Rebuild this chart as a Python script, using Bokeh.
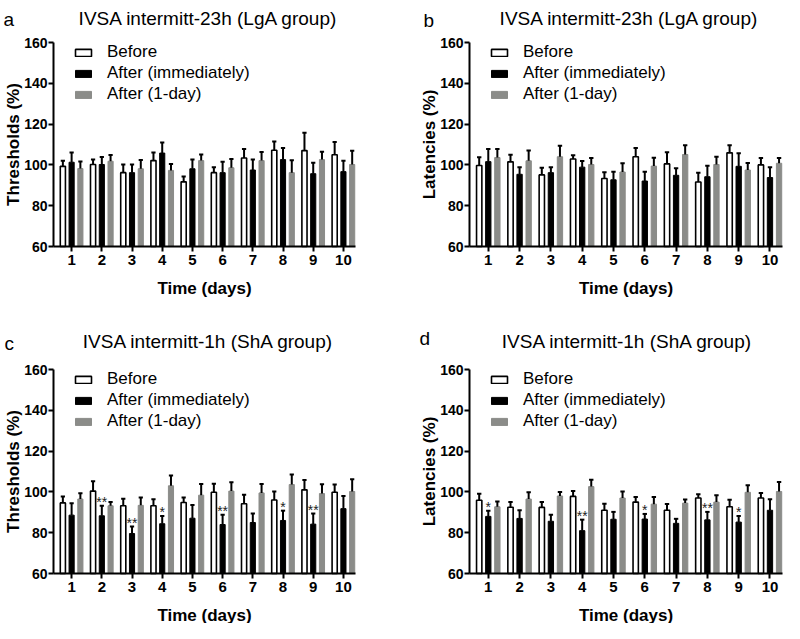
from bokeh.plotting import figure
from bokeh.layouts import gridplot
from bokeh.models import Range1d, FixedTicker, Legend, LegendItem, Label, ColumnDataSource
from bokeh.embed import file_html
from bokeh.resources import INLINE
from bokeh.core.properties import value

days = [1, 2, 3, 4, 5, 6, 7, 8, 9, 10]
series_names = ["Before", "After (immediately)", "After (1-day)"]

# Panel a: thresholds, LgA
a_before = [99.3, 100.2, 96.2, 102.1, 91.7, 96.2, 103.4, 107.2, 107.0, 105.0]
a_before_err = [102.0, 102.6, 100.2, 106.1, 94.3, 98.9, 107.8, 111.5, 115.7, 111.2]
a_imm = [101.3, 100.2, 96.2, 105.8, 98.1, 96.2, 97.5, 102.6, 95.7, 96.7]
a_imm_err = [106.1, 103.9, 100.2, 111.0, 102.6, 101.5, 102.7, 108.3, 101.0, 102.0]
a_day = [98.2, 101.8, 98.1, 97.3, 102.1, 98.6, 102.1, 96.2, 102.6, 100.2]
a_day_err = [101.7, 104.8, 102.4, 100.5, 105.1, 102.9, 106.3, 102.3, 106.4, 106.9]

# Panel b: latencies, LgA
b_before = [99.7, 101.5, 95.1, 102.9, 93.3, 104.0, 100.5, 91.6, 105.9, 100.0]
b_before_err = [103.7, 105.0, 98.6, 104.7, 96.4, 108.3, 106.2, 96.2, 109.6, 103.4]
b_imm = [101.6, 95.4, 96.2, 98.9, 92.7, 92.1, 94.9, 94.2, 99.3, 93.8]
b_imm_err = [107.8, 98.9, 98.9, 101.9, 96.6, 96.6, 98.3, 99.6, 105.7, 98.9]
b_day = [103.6, 102.0, 104.0, 100.2, 96.5, 99.4, 105.1, 100.2, 97.5, 100.8]
b_day_err = [107.8, 107.1, 109.4, 103.4, 100.8, 103.5, 109.6, 104.0, 100.9, 103.4]

# Panel c: thresholds, ShA
c_before = [94.6, 100.4, 93.2, 93.2, 94.8, 99.8, 94.2, 96.0, 101.0, 99.8]
c_before_err = [97.8, 105.2, 96.6, 96.4, 97.2, 104.0, 98.6, 100.2, 105.8, 103.6]
c_imm = [88.6, 88.3, 79.6, 84.4, 87.1, 84.0, 85.0, 86.0, 84.2, 91.8]
c_imm_err = [94.4, 93.2, 83.0, 88.2, 93.6, 88.8, 89.4, 90.8, 89.4, 98.0]
c_day = [96.5, 93.2, 93.4, 103.0, 98.4, 100.4, 99.5, 103.6, 99.2, 100.2]
c_day_err = [99.3, 95.0, 97.2, 108.0, 103.9, 104.7, 103.9, 108.5, 103.7, 106.2]
c_stars = ["", "**", "**", "*", "", "**", "", "*", "**", ""]

# Panel d: latencies, ShA
d_before = [95.9, 92.5, 92.4, 97.8, 91.0, 95.0, 91.0, 97.0, 92.7, 97.0]
d_before_err = [99.1, 95.1, 95.0, 100.4, 94.2, 97.5, 94.1, 98.8, 96.2, 99.4]
d_imm = [88.0, 87.0, 85.6, 81.0, 86.6, 86.7, 84.6, 86.3, 85.2, 91.0]
d_imm_err = [90.8, 91.0, 88.8, 86.4, 90.2, 89.2, 86.8, 90.2, 88.2, 96.4]
d_day = [92.7, 96.5, 98.0, 102.6, 97.0, 94.0, 94.5, 95.0, 99.8, 100.2]
d_day_err = [95.3, 99.8, 100.0, 105.9, 100.2, 97.5, 96.3, 98.3, 103.3, 104.8]
d_stars = ["*", "", "", "**", "", "*", "", "**", "*", ""]

titles = ["IVSA intermitt-23h (LgA group)", "IVSA intermitt-23h (LgA group)",
          "IVSA intermitt-1h (ShA group)", "IVSA intermitt-1h (ShA group)"]
letters = ["a", "b", "c", "d"]
ylabels = ["Thresholds (%)", "Latencies (%)", "Thresholds (%)", "Latencies (%)"]
xlabel = "Time (days)"
y_ticks = [60, 80, 100, 120, 140, 160]

FONT = "Liberation Sans"
GRAY = "#8b8c89"
OFF = 0.29
BW = 0.17
CAP = 0.07
X0, X1 = 0.4, 10.4
Y0, Y1 = 60, 160


def make_panel(idx, W, H, ax_px, right_px, top_px, bot_px, title_cx, title_by,
               letter_x, letter_by, data, stars):
    kx = (right_px - ax_px) / (X1 - X0)
    ky = (bot_px - top_px) / (Y1 - Y0)
    xs0 = X0 - ax_px / kx
    xs1 = X1 + (W - right_px) / kx
    ys0 = Y0 - (H - bot_px) / ky
    ys1 = Y1 + top_px / ky

    def px_x(px):
        return xs0 + px / kx

    def px_y(py):
        return ys1 - py / ky

    p = figure(width=W, height=H, output_backend="svg", toolbar_location=None,
               x_range=Range1d(xs0, xs1), y_range=Range1d(ys0, ys1),
               min_border_left=0, min_border_right=0, min_border_top=0, min_border_bottom=0)
    p.outline_line_color = None
    p.grid.visible = False
    p.background_fill_color = "white"
    p.border_fill_color = "white"

    (bv, be), (iv, ie), (dv, de) = data
    x_b = [d - OFF for d in days]
    x_i = list(days)
    x_d = [d + OFF for d in days]

    r1 = p.vbar(x=x_b, top=bv, bottom=Y0, width=BW, fill_color="white",
                line_color="black", line_width=1.6)
    r2 = p.vbar(x=x_i, top=iv, bottom=Y0, width=BW, fill_color="black", line_color="black",
                line_width=1)
    r3 = p.vbar(x=x_d, top=dv, bottom=Y0, width=BW, fill_color=GRAY, line_color=GRAY,
                line_width=1)

    for xs, tops, errs in ((x_b, bv, be), (x_i, iv, ie), (x_d, dv, de)):
        p.segment(x0=xs, y0=tops, x1=xs, y1=errs, line_color="black", line_width=2)
        p.segment(x0=[x - CAP for x in xs], y0=errs, x1=[x + CAP for x in xs], y1=errs,
                  line_color="black", line_width=2)

    if stars is not None:
        sx, sy, st = [], [], []
        for x, e, s in zip(x_i, ie, stars):
            if s:
                sx.append(x)
                sy.append(e)
                st.append(s)
        src = ColumnDataSource(dict(x=sx, y=sy, t=st))
        p.text(x="x", y="y", text="t", source=src, text_align="center",
               text_baseline="bottom", y_offset=4, text_font=value(FONT),
               text_font_size="14px", text_color="#222222")

    for ax in (p.xaxis[0], p.yaxis[0]):
        ax.axis_line_width = 2
        ax.axis_line_color = "black"
        ax.major_tick_line_width = 2
        ax.major_tick_line_color = "black"
        ax.major_tick_out = 5
        ax.major_tick_in = 0
        ax.minor_tick_line_color = None
        ax.major_label_text_font = FONT
        ax.major_label_text_font_style = "bold"
        ax.major_label_text_font_size = "15px"
        ax.major_label_text_color = "black"
        ax.axis_label_text_font = FONT
        ax.axis_label_text_font_style = "bold"
        ax.axis_label_text_font_size = "17px"
        ax.axis_label_text_color = "black"
    p.yaxis.major_label_text_font_size = "14px"
    p.yaxis.major_label_standoff = 1
    p.yaxis.axis_label_standoff = -2
    p.xaxis.major_label_standoff = 3
    p.xaxis.axis_label_standoff = 11
    p.xaxis.ticker = FixedTicker(ticks=days)
    p.yaxis.ticker = FixedTicker(ticks=y_ticks)
    p.xaxis.bounds = (X0, X1)
    p.yaxis.bounds = (Y0, Y1)
    p.xaxis.fixed_location = Y0
    p.yaxis.fixed_location = X0
    p.xaxis.axis_label = xlabel
    p.yaxis.axis_label = ylabels[idx]

    row_h, spacing = 20, 1
    leg_h = 3 * row_h + 2 * spacing
    leg_top = top_px
    legend = Legend(items=[LegendItem(label=series_names[0], renderers=[r1]),
                           LegendItem(label=series_names[1], renderers=[r2]),
                           LegendItem(label=series_names[2], renderers=[r3])],
                    location=(ax_px + 20, H - leg_top - leg_h), padding=0, margin=0,
                    spacing=spacing, glyph_width=20, glyph_height=9, label_height=row_h,
                    label_standoff=14, label_text_font=FONT, label_text_font_size="17px",
                    label_text_color="black",
                    border_line_color=None, background_fill_alpha=0)
    p.add_layout(legend)

    p.add_layout(Label(x=px_x(title_cx), y=px_y(title_by), text=titles[idx],
                       text_align="center", text_baseline="alphabetic", text_font=FONT,
                       text_font_size="19px", text_color="black"))
    p.add_layout(Label(x=px_x(letter_x), y=px_y(letter_by), text=letters[idx],
                       text_align="left", text_baseline="alphabetic", text_font=FONT,
                       text_font_size="19px", text_color="black"))
    return p


pa = make_panel(0, 400, 318, 53, 355, 42, 246, 208, 18, 3, 19,
                [(a_before, a_before_err), (a_imm, a_imm_err), (a_day, a_day_err)], None)
pb = make_panel(1, 384, 318, 69, 382, 42, 246, 229, 18, 23, 20,
                [(b_before, b_before_err), (b_imm, b_imm_err), (b_day, b_day_err)], None)
pc = make_panel(2, 400, 305, 53, 355, 51, 255, 208, 23, 4, 25,
                [(c_before, c_before_err), (c_imm, c_imm_err), (c_day, c_day_err)], c_stars)
pd = make_panel(3, 384, 305, 69, 382, 51, 255, 227, 23, 19, 20,
                [(d_before, d_before_err), (d_imm, d_imm_err), (d_day, d_day_err)], d_stars)

grid = gridplot([[pa, pb], [pc, pd]], toolbar_location=None)
open("out.html", "w").write(file_html(grid, INLINE))
